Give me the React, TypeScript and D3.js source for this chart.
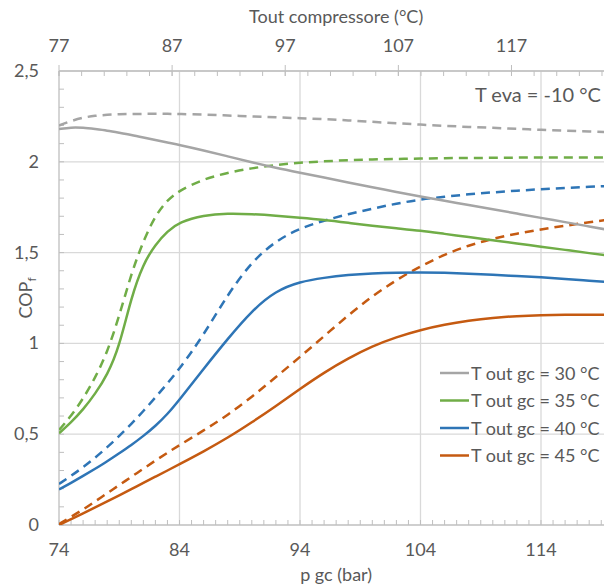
import React from "react";
import * as d3 from "d3";

// Gas-cooler pressure (bar), shared by every series
const pressure = [74, 75, 76, 77, 78, 79, 80, 81, 82, 83, 84, 86, 88, 90, 92, 94, 96, 98, 100, 102, 104, 106, 108, 110, 112, 114, 116, 118, 120];

// COP_f, solid curves
const cop30Solid = [2.18, 2.19, 2.188, 2.18, 2.172, 2.16, 2.148, 2.134, 2.12, 2.106, 2.093, 2.063, 2.03, 1.997, 1.966, 1.94, 1.914, 1.886, 1.86, 1.834, 1.808, 1.785, 1.762, 1.739, 1.715, 1.691, 1.668, 1.644, 1.62];
const cop35Solid = [0.505, 0.565, 0.635, 0.722, 0.825, 0.98, 1.255, 1.44, 1.545, 1.618, 1.668, 1.706, 1.716, 1.712, 1.703, 1.692, 1.68, 1.664, 1.648, 1.634, 1.621, 1.603, 1.586, 1.568, 1.55, 1.533, 1.515, 1.497, 1.48];
const cop40Solid = [0.196, 0.232, 0.27, 0.31, 0.35, 0.395, 0.44, 0.49, 0.545, 0.61, 0.69, 0.86, 1.025, 1.18, 1.29, 1.34, 1.362, 1.377, 1.386, 1.39, 1.391, 1.389, 1.384, 1.378, 1.371, 1.364, 1.355, 1.345, 1.335];
const cop45Solid = [0.0, 0.032, 0.064, 0.097, 0.13, 0.163, 0.197, 0.232, 0.266, 0.3, 0.335, 0.405, 0.48, 0.565, 0.655, 0.75, 0.84, 0.918, 0.985, 1.035, 1.074, 1.104, 1.125, 1.141, 1.151, 1.156, 1.158, 1.158, 1.157];

// COP_f, dashed curves
const cop30Dashed = [2.2, 2.225, 2.244, 2.254, 2.259, 2.262, 2.263, 2.264, 2.265, 2.264, 2.263, 2.26, 2.255, 2.25, 2.245, 2.24, 2.235, 2.228, 2.22, 2.212, 2.205, 2.198, 2.192, 2.187, 2.182, 2.176, 2.171, 2.167, 2.163];
const cop35Dashed = [0.523, 0.6, 0.695, 0.81, 0.95, 1.15, 1.385, 1.565, 1.705, 1.79, 1.842, 1.905, 1.94, 1.965, 1.983, 1.995, 2.003, 2.009, 2.013, 2.016, 2.018, 2.02, 2.021, 2.022, 2.023, 2.024, 2.024, 2.024, 2.024];
const cop40Dashed = [0.226, 0.27, 0.318, 0.37, 0.428, 0.49, 0.556, 0.627, 0.702, 0.78, 0.86, 1.045, 1.27, 1.45, 1.565, 1.634, 1.677, 1.712, 1.742, 1.77, 1.793, 1.808, 1.821, 1.832, 1.841, 1.849, 1.856, 1.862, 1.868];
const cop45Dashed = [0.005, 0.045, 0.085, 0.13, 0.175, 0.22, 0.265, 0.31, 0.355, 0.398, 0.44, 0.52, 0.605, 0.705, 0.815, 0.925, 1.04, 1.155, 1.26, 1.35, 1.425, 1.49, 1.54, 1.577, 1.605, 1.628, 1.648, 1.667, 1.685];

const legendLabels = ["T out gc = 30 °C", "T out gc = 35 °C", "T out gc = 40 °C", "T out gc = 45 °C"];
const seriesColors = ["#a5a5a5", "#70ad47", "#2e75b6", "#c55a11"];

const bottomTicks = [74, 84, 94, 104, 114];
const topTicks = [77, 87, 97, 107, 117];
const yTicks = [0, 0.5, 1, 1.5, 2, 2.5];

const W = 604;
const H = 587;
const left = 59;
const right = 613.3;
const top = 71;
const bottom = 525;

const FONT = "Lato, 'Open Sans', sans-serif";
const TEXT = "#595959";
const AXIS = "#bfbfbf";
const GRID = "#d9d9d9";

const itLocale = d3.formatLocale({ decimal: ",", thousands: ".", grouping: [3], currency: ["", " €"] });
const fmtY = itLocale.format("~g");

export default function App() {
  const x = d3.scaleLinear().domain([74, 120]).range([left, right]);
  const xTop = d3.scaleLinear().domain([77, 126]).range([left, right]);
  const y = d3.scaleLinear().domain([0, 2.5]).range([bottom, top]);

  const line = d3
    .line<[number, number]>()
    .x((d) => x(d[0]))
    .y((d) => y(d[1]))
    .curve(d3.curveBasis);

  const toPts = (vals: number[]) => pressure.map((p, i) => [p, vals[i]] as [number, number]);

  const solid = [cop30Solid, cop35Solid, cop40Solid, cop45Solid];
  const dashed = [cop30Dashed, cop35Dashed, cop40Dashed, cop45Dashed];

  const minorBottom = d3.range(74, 121, 1);
  const minorTop = d3.range(77, 127, 2);
  const minorY = d3.range(0, 25).map((i) => i / 10);

  const legendY = [373, 400.5, 428, 455.5];

  return (
    <svg width={W} height={H} style={{ position: "absolute", left: 0, top: 0, background: "#fff" }} fontFamily={FONT}>
      <defs>
        <clipPath id="plot-clip">
          <rect x={left} y={top - 2} width={right - left} height={bottom - top + 2} />
        </clipPath>
      </defs>
      <rect x={0} y={0} width={W} height={H} fill="#fff" />

      {/* gridlines */}
      {yTicks.slice(1).map((v) => (
        <line key={"gy" + v} x1={left} x2={right} y1={y(v)} y2={y(v)} stroke={GRID} strokeWidth={1.3} />
      ))}
      {bottomTicks.slice(1).map((v) => (
        <line key={"gx" + v} x1={x(v)} x2={x(v)} y1={top} y2={bottom} stroke={GRID} strokeWidth={1.3} />
      ))}

      {/* minor ticks */}
      {minorBottom.map((v) => (
        <line key={"mb" + v} x1={x(v)} x2={x(v)} y1={bottom} y2={bottom - 5} stroke={AXIS} strokeWidth={1} />
      ))}
      {minorTop.map((v) => (
        <line key={"mt" + v} x1={xTop(v)} x2={xTop(v)} y1={top} y2={top + 5} stroke={AXIS} strokeWidth={1} />
      ))}
      {topTicks.map((v) => (
        <line key={"Mt" + v} x1={xTop(v)} x2={xTop(v)} y1={top - 6} y2={top + 5} stroke={AXIS} strokeWidth={1} />
      ))}
      {minorY.map((v) => (
        <line key={"my" + v} x1={left} x2={left + 5} y1={y(v)} y2={y(v)} stroke={AXIS} strokeWidth={1} />
      ))}

      {/* axis lines */}
      <line x1={left} x2={right} y1={bottom} y2={bottom} stroke={AXIS} strokeWidth={1.3} />
      <line x1={left} x2={right} y1={top} y2={top} stroke={AXIS} strokeWidth={1.3} />
      <line x1={left} x2={left} y1={top} y2={bottom} stroke={AXIS} strokeWidth={1.3} />

      {/* series */}
      <g clipPath="url(#plot-clip)" fill="none" strokeWidth={2.5} strokeLinecap="butt">
        {dashed.map((vals, i) => (
          <path key={"d" + i} d={line(toPts(vals)) || ""} stroke={seriesColors[i]} strokeDasharray="9,6" />
        ))}
        {solid.map((vals, i) => (
          <path key={"s" + i} d={line(toPts(vals)) || ""} stroke={seriesColors[i]} />
        ))}
      </g>

      {/* tick labels */}
      {yTicks.map((v) => (
        <text key={"ly" + v} x={39} y={y(v) + 6} textAnchor="end" fontSize={18} fill={TEXT}>
          {fmtY(v)}
        </text>
      ))}
      {bottomTicks.map((v) => (
        <text key={"lb" + v} x={x(v)} y={556} textAnchor="middle" fontSize={18} fill={TEXT}>
          {v}
        </text>
      ))}
      {topTicks.map((v) => (
        <text key={"lt" + v} x={xTop(v)} y={52} textAnchor="middle" fontSize={18} fill={TEXT}>
          {v}
        </text>
      ))}

      {/* axis titles */}
      <text x={(left + right) / 2} y={23} textAnchor="middle" fontSize={18} fill={TEXT}>
        Tout compressore (°C)
      </text>
      <text x={(left + right) / 2} y={581} textAnchor="middle" fontSize={18} fill={TEXT}>
        p gc (bar)
      </text>
      <text transform={`translate(32, ${(top + bottom) / 2}) rotate(-90)`} textAnchor="middle" fontSize={18} fill={TEXT}>
        COP<tspan fontSize={12} dy={4}>f</tspan>
      </text>

      {/* annotation */}
      <text x={475} y={102} fontSize={20} fill={TEXT}>
        T eva = -10 °C
      </text>

      {/* legend */}
      {legendLabels.map((lab, i) => (
        <g key={"lg" + i}>
          <line x1={440} x2={469} y1={legendY[i]} y2={legendY[i]} stroke={seriesColors[i]} strokeWidth={2.5} />
          <text x={471} y={legendY[i] + 6.5} fontSize={18} fill={TEXT}>
            {lab}
          </text>
        </g>
      ))}
    </svg>
  );
}
